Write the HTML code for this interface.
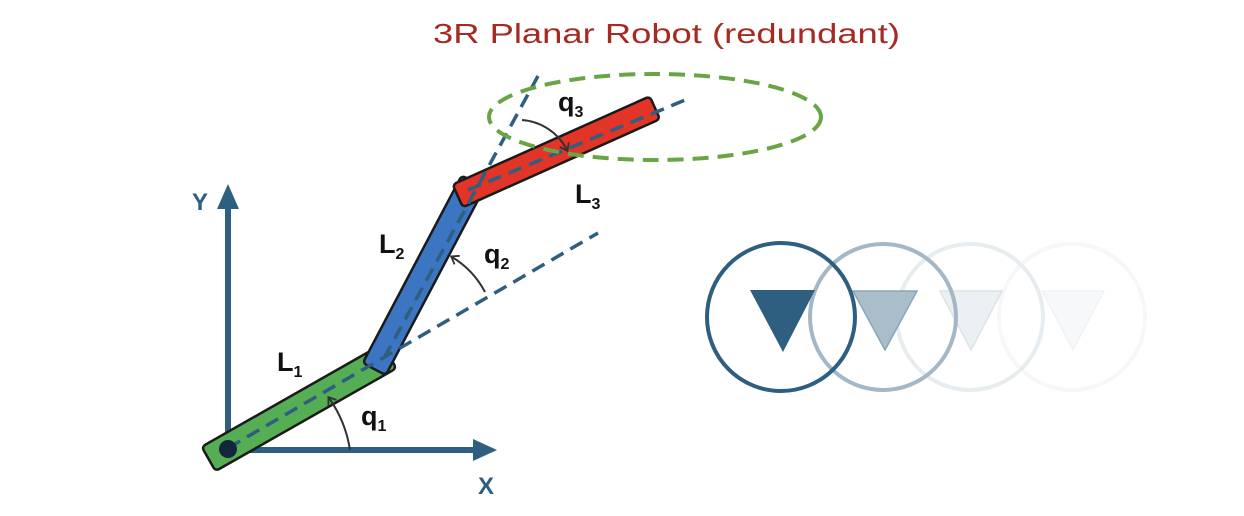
<!DOCTYPE html>
<html><head><meta charset="utf-8"><style>
html,body{margin:0;padding:0;background:#fff;}
svg{display:block;}
text{font-family:"Liberation Sans",sans-serif;}
</style></head><body>
<svg width="1244" height="516" viewBox="0 0 1244 516" xmlns="http://www.w3.org/2000/svg">
<defs>
<marker id="ah" markerWidth="12" markerHeight="12" refX="7" refY="6" orient="auto" markerUnits="userSpaceOnUse">
<path d="M1,1 L8,6 L1,11" fill="none" stroke="#333" stroke-width="1.8"/>
</marker>
</defs>
<text x="433" y="43" font-size="28" fill="#a52a22" textLength="467" lengthAdjust="spacingAndGlyphs">3R Planar Robot (redundant)</text>

<!-- axes -->
<line x1="228" y1="450" x2="228" y2="205" stroke="#2e5f80" stroke-width="6"/>
<polygon points="217,209 239,209 228,184" fill="#2e5f80"/>
<line x1="228" y1="450" x2="476" y2="450" stroke="#2e5f80" stroke-width="6"/>
<polygon points="473,439 473,461 497,450" fill="#2e5f80"/>
<text x="192" y="210" font-size="24" font-weight="bold" fill="#2e5f80">Y</text>
<text x="478" y="494" font-size="24" font-weight="bold" fill="#2e5f80">X</text>

<!-- links -->
<g stroke="#1a1a1a" stroke-width="2.5">
<rect x="-12" y="-14" width="208" height="28" rx="4" fill="#55ad54" transform="translate(219,453) rotate(-29.6)"/>
<rect x="-8" y="-13" width="212" height="26" rx="4" fill="#3c76c3" transform="translate(378,362) rotate(-62.2)"/>
<rect x="-6" y="-12" width="216" height="25" rx="4" fill="#e23427" transform="translate(463,193) rotate(-24.1)"/>
</g>

<!-- dashed lines -->
<g stroke="#2e5f80" stroke-width="3.5" stroke-dasharray="14,8" fill="none">
<line x1="228" y1="448" x2="598" y2="233"/>
<line x1="384" y1="358" x2="538" y2="76"/>
<line x1="468" y1="190" x2="690" y2="98"/>
</g>

<!-- ellipse -->
<ellipse cx="655" cy="117" rx="166" ry="43" fill="none" stroke="#6aa545" stroke-width="4" stroke-dasharray="16,9"/>

<!-- base -->
<circle cx="228" cy="449" r="9" fill="#14263e"/>

<!-- angle arcs -->
<path d="M350,450 A122,122 0 0 0 329,398" fill="none" stroke="#333" stroke-width="2" marker-end="url(#ah)"/>
<path d="M485,292 A90,90 0 0 0 452,257" fill="none" stroke="#333" stroke-width="2" marker-end="url(#ah)"/>
<path d="M522,120 A55,55 0 0 1 567,150" fill="none" stroke="#333" stroke-width="2" marker-end="url(#ah)"/>

<!-- labels -->
<g font-weight="bold" fill="#111">
<text x="277" y="371" font-size="27">L<tspan font-size="16" dy="6">1</tspan></text>
<text x="379" y="253" font-size="27">L<tspan font-size="16" dy="6">2</tspan></text>
<text x="575" y="203" font-size="27">L<tspan font-size="16" dy="6">3</tspan></text>
<text x="361" y="425" font-size="27">q<tspan font-size="16" dy="6">1</tspan></text>
<text x="484" y="263" font-size="27">q<tspan font-size="16" dy="6">2</tspan></text>
<text x="558" y="111" font-size="27">q<tspan font-size="16" dy="6">3</tspan></text>
</g>

<!-- ghost circles -->
<circle cx="1072" cy="317" r="73" fill="none" stroke="#f5f7fa" stroke-width="4"/>
<polygon points="1042,291 1104,291 1073,350" fill="#f6f8fa" stroke="#f0f3f6" stroke-width="1.5"/>
<circle cx="970" cy="317" r="73" fill="none" stroke="#e6ecf0" stroke-width="4"/>
<polygon points="940,291 1002,291 971,350" fill="#ebf0f3" stroke="#dbe3e8" stroke-width="1.5"/>
<circle cx="883" cy="317" r="73" fill="none" stroke="#a3b7c6" stroke-width="4"/>
<polygon points="853,291 917,291 885,350" fill="#aabdcb" stroke="#8ca5b7" stroke-width="1.5"/>
<circle cx="781" cy="317" r="74" fill="none" stroke="#2e5f80" stroke-width="4"/>
<polygon points="750,290 815,290 783,352" fill="#2e5f80"/>
</svg>
</body></html>
